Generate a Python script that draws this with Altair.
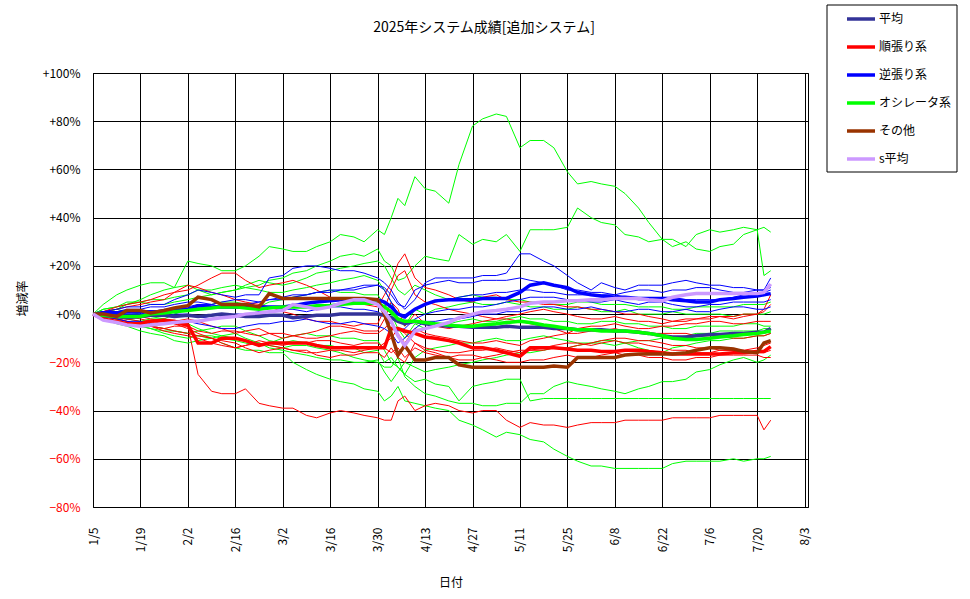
import altair as alt
import pandas as pd

FONT = "Noto Sans CJK JP"
TITLE = "2025年システム成績[追加システム]"

DATES = [
    # Jan (8)
    "2025-01-05", "2025-01-08", "2025-01-12", "2025-01-15", "2025-01-19", "2025-01-22", "2025-01-26", "2025-01-29",
    # Feb (8)
    "2025-02-02", "2025-02-05", "2025-02-09", "2025-02-12", "2025-02-16", "2025-02-19", "2025-02-23", "2025-02-26",
    # Mar (9)
    "2025-03-02", "2025-03-05", "2025-03-09", "2025-03-12", "2025-03-16", "2025-03-19", "2025-03-23", "2025-03-26", "2025-03-30",
    # Apr (11)
    "2025-04-01", "2025-04-03", "2025-04-05", "2025-04-07", "2025-04-10", "2025-04-13", "2025-04-16", "2025-04-20", "2025-04-23", "2025-04-27", "2025-04-30",
    # May (8)
    "2025-05-04", "2025-05-07", "2025-05-11", "2025-05-14", "2025-05-18", "2025-05-21", "2025-05-25", "2025-05-28",
    # Jun (9)
    "2025-06-01", "2025-06-04", "2025-06-08", "2025-06-11", "2025-06-15", "2025-06-18", "2025-06-22", "2025-06-25", "2025-06-29",
    # Jul (8)
    "2025-07-02", "2025-07-06", "2025-07-09", "2025-07-13", "2025-07-16", "2025-07-20", "2025-07-22", "2025-07-24",
]

GROUPS = ["平均", "順張り系", "逆張り系", "オシレータ系", "その他", "s平均"]
COLORS = ["#333399", "#FF0000", "#0000FF", "#00FF00", "#993300", "#CC99FF"]

# ---- thin lines: individual systems (オシレータ系) ----
G1 = [0, 4, 8, 10, 12, 13, 13, 11,
      22, 21, 20, 18, 18, 20, 24, 28,
      27, 26, 26, 28, 30, 33, 32, 30, 35,
      33, 40, 48, 45, 57, 52, 51, 46, 62, 78, 81,
      83, 82, 69, 72, 72, 69, 59, 54,
      55, 54, 53, 50, 44, 38, 31, 31, 28,
      33, 35, 34, 35, 36, 35, 36, 34]
G2 = [0, 2, 3, 5, 5, 4, 4, 5,
      6, 7, 8, 9, 10, 11, 12, 14,
      15, 17, 18, 20, 22, 24, 25, 24, 27,
      22, 20, 14, 15, 20, 24, 23, 22, 33, 29, 31,
      30, 33, 26, 35, 35, 35, 36, 44,
      40, 38, 37, 33, 32, 30, 31, 28, 30,
      27, 26, 28, 29, 33, 35, 16, 18]
G3 = [0, -1, -2, -4, -4, -5, -6, -7,
      -8, -9, -10, -12, -14, -15, -15, -16,
      -16, -20, -23, -25, -27, -28, -29, -31, -32,
      -36, -34, -30, -36, -37, -38, -39, -40, -44, -46, -48,
      -51, -49, -50, -52, -53, -56, -59, -61,
      -63, -63, -64, -64, -64, -64, -64, -62, -61,
      -61, -61, -61, -60, -61, -60, -60, -59]
G4 = [0, -2, -3, -4, -5, -6, -7, -7,
      -8, -7, -6, -5, -5, -7, -9, -11,
      -12, -11, -12, -13, -13, -14, -14, -16, -15,
      -20, -18, -22, -25, -28, -27, -29, -30, -36, -30, -29,
      -28, -27, -27, -36, -35, -35, -35, -35,
      -35, -35, -35, -35, -35, -35, -35, -35, -35,
      -35, -35, -35, -35, -35, -35, -35, -35]
G5 = [0, 1, 2, 1, 0, -1, -2, -3,
      -4, -6, -8, -9, -10, -11, -12, -13,
      -14, -13, -13, -14, -15, -16, -18, -19, -20,
      -22, -22, -18, -26, -30, -33, -34, -36, -37, -37, -38,
      -38, -37, -37, -33, -33, -30, -28, -29,
      -30, -31, -32, -33, -31, -30, -28, -28, -27,
      -24, -23, -21, -19, -18, -20, -19, -17]
G6 = [0, 2, 3, 4, 5, 6, 6, 7,
      8, 10, 10, 11, 12, 11, 10, 9,
      9, 10, 11, 12, 13, 14, 15, 16, 14,
      10, 5, -2, -5, 2, 0, 2, 3, 4, 5, 4,
      4, 5, 4, 3, 3, 2, 2, 3,
      2, 1, 1, 2, 0, 0, 0, 1, 0,
      0, 0, 0, -1, 0, 0, 0, 1]
G7 = [0, 1, -1, -2, -3, -2, -2, 0,
      2, 3, 4, 5, 5, 4, 3, 5,
      6, 7, 8, 9, 10, 9, 9, 8, 8,
      4, 0, -6, -10, -4, -6, -5, -4, -3, -2, -3,
      -3, -2, -1, -2, -2, -3, -3, -4,
      -4, -3, -3, -4, -4, -5, -5, -6, -6,
      -5, -5, -5, -5, -4, -4, -5, -5]
G8 = [0, -1, -2, -3, -5, -6, -8, -9,
      -10, -9, -9, -10, -11, -12, -13, -12,
      -10, -9, -8, -9, -9, -10, -10, -11, -11,
      -15, -20, -22, -25, -18, -15, -14, -13, -12, -12, -11,
      -10, -11, -11, -10, -9, -10, -11, -12,
      -12, -11, -11, -12, -14, -15, -16, -14, -13,
      -12, -11, -11, -10, -10, -9, -9, -8]
G9 = [0, 1, 2, 4, 6, 8, 10, 11,
      12, 10, 8, 9, 10, 12, 14, 13,
      12, 13, 15, 17, 18, 19, 20, 21, 22,
      20, 15, 10, 8, 12, 10, 8, 6, 7, 8, 7,
      7, 6, 6, 5, 5, 4, 4, 5,
      5, 4, 4, 4, 3, 3, 3, 2, 2,
      3, 3, 3, 3, 4, 4, 4, 5]
G10 = [0, -2, -4, -5, -7, -8, -9, -11,
       -12, -11, -10, -9, -8, -10, -12, -14,
       -15, -16, -17, -18, -19, -19, -20, -20, -19,
       -24, -28, -24, -20, -22, -24, -23, -22, -21, -20, -19,
       -18, -17, -16, -16, -15, -14, -14, -13,
       -12, -12, -13, -12, -11, -11, -10, -10, -9,
       -8, -8, -7, -7, -7, -7, -6, -6]

# ---- thin lines: 順張り系 ----
R1 = [0, -1, -2, -3, -4, -5, -6, -5,
      -5, -25, -32, -33, -33, -31, -37, -38,
      -39, -39, -42, -43, -41, -40, -41, -42, -43,
      -44, -44, -36, -34, -40, -38, -37, -38, -40, -41, -40,
      -40, -44, -47, -45, -46, -46, -47, -46,
      -45, -45, -45, -44, -44, -44, -44, -43, -43,
      -43, -43, -42, -42, -42, -42, -48, -44]
R2 = [0, 1, 3, 4, 5, 6, 8, 9,
      10, 12, 15, 17, 17, 14, 11, 12,
      13, 14, 12, 10, 7, 6, 5, 4, 3,
      8, 13, 21, 25, 15, 11, 10, 8, 6, 5, 7,
      8, 6, 5, 5, 4, 4, 3, 3,
      2, 2, 1, 0, 0, -1, -2, -3, -3,
      -2, -2, -1, -1, 0, 0, 1, 4]
R3 = [0, -2, -3, -4, -5, -5, -6, -7,
      -8, -9, -10, -11, -12, -14, -16, -15,
      -14, -15, -15, -17, -18, -17, -17, -16, -16,
      -18, -14, -18, -20, -12, -15, -16, -18, -17, -17, -18,
      -19, -20, -20, -19, -19, -18, -17, -18,
      -18, -17, -16, -17, -17, -18, -18, -19, -19,
      -18, -18, -17, -17, -17, -17, -18, -18]
R4 = [0, -1, -2, -2, -1, -2, -3, -4,
      -5, -7, -8, -7, -7, -8, -9, -8,
      -8, -9, -10, -10, -9, -8, -7, -8, -8,
      -6, -3, -8, -12, -6, -8, -9, -10, -11, -12, -12,
      -11, -12, -13, -11, -10, -9, -8, -6,
      -5, -5, -4, -5, -6, -6, -5, -5, -4,
      -4, -3, -3, -4, -4, -3, -3, -3]
R5 = [0, 1, 1, -1, -2, -3, -4, -3,
      -2, -3, -5, -6, -8, -7, -6, -8,
      -10, -9, -8, -7, -5, -5, -6, -7, -7,
      -2, 5, 2, -5, 0, -4, -5, -6, -5, -4, -3,
      -2, -1, 0, 1, 2, 1, 0, -1,
      -2, -2, -1, -2, -3, -3, -4, -3, -2,
      -2, -1, -1, -2, -1, 0, 2, 8]
R6 = [0, -1, -1, -2, -3, -3, -2, -4,
      -6, -8, -10, -12, -14, -13, -12, -13,
      -14, -15, -16, -16, -15, -15, -16, -15, -14,
      -12, -10, -6, -8, -12, -14, -15, -16, -16, -15, -15,
      -14, -15, -16, -15, -15, -14, -14, -13,
      -12, -11, -10, -10, -11, -11, -12, -13, -13,
      -14, -14, -15, -15, -15, -14, -13, -12]
R7 = [0, 1, 2, 3, 4, 5, 6, 9,
      12, 11, 9, 8, 6, 5, 4, 3,
      1, 0, -2, -3, -3, -4, -5, -4, -4,
      2, 10, 16, 18, 8, 5, 4, 2, 1, 0, -1,
      -2, -2, -3, -4, -5, -6, -8, -8,
      -7, -7, -6, -7, -7, -8, -8, -8, -8,
      -9, -9, -9, -10, -10, -9, -9, -8]
R8 = [0, -1, -2, -3, -4, -5, -7, -8,
      -9, -10, -12, -13, -14, -13, -11, -12,
      -13, -12, -12, -11, -11, -12, -13, -12, -12,
      -14, -16, -14, -18, -14, -16, -17, -18, -19, -19, -18,
      -17, -16, -15, -15, -14, -13, -12, -12,
      -13, -12, -11, -12, -12, -13, -14, -15, -15,
      -16, -16, -15, -15, -15, -16, -16, -15]

# ---- thin lines: 逆張り系 ----
B1 = [0, 1, 2, 3, 3, 4, 4, 6,
      8, 10, 9, 8, 7, 8, 8, 15,
      16, 19, 20, 20, 19, 18, 18, 17, 15,
      13, 10, 5, 2, 6, 13, 15, 15, 15, 15, 16,
      16, 17, 25, 25, 22, 20, 16, 13,
      10, 13, 11, 10, 12, 12, 12, 13, 14,
      13, 12, 12, 11, 11, 10, 10, 15]
B2 = [0, 1, 1, 2, 2, 3, 3, 4,
      5, 5, 4, 5, 6, 6, 5, 6,
      7, 8, 8, 9, 10, 10, 11, 12, 12,
      11, 8, 4, 3, 10, 12, 13, 14, 13, 13, 14,
      14, 14, 15, 14, 13, 12, 10, 10,
      9, 9, 8, 9, 10, 10, 9, 10, 10,
      11, 11, 10, 9, 9, 10, 10, 11]
B3 = [0, 0, -1, 0, 0, -1, -1, 0,
      0, -1, -2, -1, 0, 0, 1, 1,
      2, 2, 1, 2, 3, 3, 2, 2, 1,
      -1, -4, -7, -6, -2, 0, 1, 2, 2, 3, 3,
      4, 5, 6, 7, 7, 7, 6, 6,
      5, 5, 6, 5, 4, 5, 5, 4, 3,
      3, 4, 4, 5, 5, 5, 5, 6]
B4 = [0, -1, -2, -3, -3, -4, -4, -3,
      -3, -4, -5, -6, -6, -5, -4, -4,
      -3, -3, -2, -3, -4, -4, -3, -4, -5,
      -6, -8, -12, -10, -6, -3, -3, -2, -2, -1, 0,
      0, 1, 1, 2, 3, 3, 2, 2,
      3, 2, 1, 1, 2, 2, 1, 1, 2,
      1, 1, 2, 3, 3, 2, 2, 3]
B5 = [0, 1, 1, 0, 0, 1, 2, 2,
      3, 4, 4, 3, 3, 4, 5, 6,
      6, 7, 8, 9, 9, 10, 10, 11, 12,
      10, 5, 0, -2, 2, 4, 5, 6, 7, 8, 8,
      9, 9, 10, 10, 9, 9, 8, 8,
      8, 8, 8, 7, 6, 6, 7, 7, 6,
      6, 6, 6, 7, 8, 9, 9, 10]

# ---- thick lines: group averages ----
AVG = [0, -1, -1, -1.5, -1, -0.5, -0.5, -1,
       -0.5, -1, -0.5, 0, -0.5, -1, -1, -0.5,
       -0.5, -1.5, -1, -0.5, -0.5, 0, 0, 0, 0,
       -0.5, -1.5, -3, -4, -3, -4, -4.5, -5, -5, -5.5, -5.5,
       -5.5, -5, -5.5, -5.5, -5.5, -6, -6, -6.5,
       -6.5, -6.5, -7, -7, -7.5, -8, -9, -9.5, -9.5,
       -9, -8.5, -8.5, -8, -8, -7.5, -7.5, -6]
JUN = [0, -2, -3, -4, -4, -3, -2.5, -3,
       -4.5, -12, -12, -10, -10, -11, -13, -12,
       -12, -12, -12, -13, -14, -14, -14, -14, -14,
       -14, -6, -6, -7, -8, -9.5, -10, -11, -12, -14, -14,
       -15, -16, -17.5, -14, -14, -14, -14.5, -15,
       -15, -15.5, -15.5, -15, -15, -15.5, -16, -16.5, -16.5,
       -16.5, -16.5, -16.5, -16, -16, -15.5, -15.5, -13.5]
GYAKU = [0, 0.5, 0.5, 1, 1, 1, 1, 1.5,
         2, 3.5, 3, 3, 3, 3, 3, 3,
         3, 3.5, 4.5, 5, 5.5, 6, 6, 6, 6,
         5, 3, 0, -1, 2, 4, 5.5, 6, 6, 6, 6.5,
         6.5, 6.5, 9, 12, 13, 12, 11, 9,
         8, 7.5, 7, 7, 6.5, 6.5, 6.5, 6, 5.5,
         5, 5, 6, 6.5, 7, 7.5, 8, 8.5]
OSC = [0, -0.5, -1, -1, -1, 0, 0.5, 1,
       1.5, 2, 2.5, 3, 3, 2.5, 2, 2.5,
       3, 3, 3, 3.5, 3.5, 4, 4.5, 4.5, 4.5,
       3, 1, -2, -3, -3, -3.5, -4, -4.5, -5, -5, -4.5,
       -4, -3.5, -3, -3.5, -4.5, -5, -6, -6.5,
       -6.5, -7, -7, -7, -7.5, -8, -9, -10, -10.5,
       -10.5, -10, -9.5, -9, -8.5, -8, -7.5, -7]
OTHER = [0, 0, -1, 1.5, 1.5, 0.5, 1.5, 2.5,
         3.5, 7, 6, 4, 4, 4, 3, 8.5,
         6.5, 6.5, 6.5, 6.5, 6.5, 6.5, 6.5, 6.5, 6,
         0, -8, -17, -13, -19, -19, -18, -18, -21, -22, -22,
         -22, -22, -22, -22, -22, -21.5, -22, -18,
         -18, -18, -18, -17, -16.5, -16.5, -16.5, -16.5, -16,
         -15, -14, -14, -14.5, -15.5, -16, -12, -11]
SAVG = [0, -2.5, -3.5, -4.5, -5, -4.5, -4, -3.5,
        -3, -3, -2, -1.5, -1, 0, 0.5, 1,
        1.5, 4, 3, 2, 3, 4.5, 6, 6, 4,
        1, -3, -9, -13, -7, -6, -5, -3.5, -1.5, 0, 1,
        1.5, 2, 3, 4.5, 5, 5, 5.5, 5.5,
        6, 6, 6.5, 6.5, 6.5, 6, 5.5, 7, 8,
        8.5, 8.5, 8.5, 8.5, 8.5, 8.5, 9, 12.5]

TICK_DATES = [(1, 5), (1, 19), (2, 2), (2, 16), (3, 2), (3, 16), (3, 30), (4, 13), (4, 27),
              (5, 11), (5, 25), (6, 8), (6, 22), (7, 6), (7, 20), (8, 3)]
Y_TICKS = [-80, -60, -40, -20, 0, 20, 40, 60, 80, 100]

thin_series = [
    ("g1", "オシレータ系", G1), ("g2", "オシレータ系", G2), ("g3", "オシレータ系", G3),
    ("g4", "オシレータ系", G4), ("g5", "オシレータ系", G5), ("g6", "オシレータ系", G6),
    ("g7", "オシレータ系", G7), ("g8", "オシレータ系", G8), ("g9", "オシレータ系", G9),
    ("g10", "オシレータ系", G10),
    ("r1", "順張り系", R1), ("r2", "順張り系", R2), ("r3", "順張り系", R3), ("r4", "順張り系", R4),
    ("r5", "順張り系", R5), ("r6", "順張り系", R6), ("r7", "順張り系", R7), ("r8", "順張り系", R8),
    ("b1", "逆張り系", B1), ("b2", "逆張り系", B2), ("b3", "逆張り系", B3), ("b4", "逆張り系", B4),
    ("b5", "逆張り系", B5),
]
thick_series = [
    ("t_avg", "平均", AVG), ("t_jun", "順張り系", JUN), ("t_gyaku", "逆張り系", GYAKU),
    ("t_osc", "オシレータ系", OSC), ("t_other", "その他", OTHER), ("t_savg", "s平均", SAVG),
]

for sid, _, vals in thin_series + thick_series:
    if len(vals) != len(DATES):
        raise ValueError(f"{sid}: {len(vals)} values vs {len(DATES)} dates")

rows = []
for sid, grp, vals in thin_series:
    for d, v in zip(DATES, vals):
        rows.append({"date": d, "value": v, "series": sid, "group": grp, "kind": "thin"})
for sid, grp, vals in thick_series:
    for d, v in zip(DATES, vals):
        rows.append({"date": d, "value": v, "series": sid, "group": grp, "kind": "thick"})
df = pd.DataFrame(rows)

color_scale = alt.Scale(domain=GROUPS, range=COLORS)

x_enc = alt.X(
    "date:T",
    scale=alt.Scale(type="utc",
                    domain=[alt.DateTime(year=2025, month=1, date=5, utc=True),
                            alt.DateTime(year=2025, month=8, date=4, utc=True)]),
    axis=alt.Axis(
        values=[alt.DateTime(year=2025, month=m, date=d, utc=True) for m, d in TICK_DATES],
        labelExpr="utcFormat(datum.value, '%-m/%-d')",
        labelAngle=270, labelAlign="right", labelBaseline="middle",
        labelPadding=20, ticks=False, domain=False,
        grid=True, gridColor="black", gridOpacity=1, gridWidth=1,
        labelFont=FONT, labelFontSize=12, labelColor="black",
        title="日付", titleFont=FONT, titleFontSize=12, titleFontWeight="normal",
        titleColor="black", titleY=75, titleBaseline="middle",
    ),
)
y_enc = alt.Y(
    "value:Q",
    scale=alt.Scale(domain=[-80, 100], nice=False, zero=False),
    axis=alt.Axis(
        values=Y_TICKS,
        labelExpr="datum.value > 0 ? '+' + datum.value + '%' : (datum.value == 0 ? '+0%' : '−' + abs(datum.value) + '%')",
        labelColor=alt.condition("datum.value < 0", alt.value("#FF0000"), alt.value("black")),
        labelPadding=13, ticks=False, domain=False,
        grid=True, gridColor="black", gridOpacity=1, gridWidth=1,
        labelFont=FONT, labelFontSize=12,
        title="増減率", titleFont=FONT, titleFontSize=12, titleFontWeight="normal",
        titleColor="black", titleX=-71, titleY=225, titleAngle=270,
        titleAlign="center", titleBaseline="middle",
    ),
)

legend = alt.Legend(
    title=None, orient="none", legendX=734, legendY=-70, direction="vertical",
    symbolType="M-1,0H1", symbolSize=784, symbolStrokeWidth=3.5,
    labelFont=FONT, labelFontSize=12, labelColor="black", labelOffset=2,
    padding=0, rowPadding=5, symbolOffset=18, labelLimit=200,
)

base = alt.Chart(df)

thin = base.transform_filter("datum.kind == 'thin'").mark_line(strokeWidth=1).encode(
    x=x_enc, y=y_enc,
    color=alt.Color("group:N", scale=color_scale, legend=legend),
    detail="series:N",
)

thick = base.transform_filter("datum.kind == 'thick'").mark_line(strokeWidth=3.5).encode(
    x=x_enc, y=y_enc,
    color=alt.Color("group:N", scale=color_scale, legend=legend),
    detail="series:N",
)

deco = alt.Chart(pd.DataFrame({"t": [TITLE]}))

legend_frame = deco.mark_rect(fill="white", stroke="black", strokeWidth=1).encode(
    x=alt.value(734), x2=alt.value(864), y=alt.value(-68), y2=alt.value(99),
)

title_layer = deco.mark_text(
    font=FONT, fontSize=14, color="black", align="center", baseline="middle",
).encode(text="t:N", x=alt.value(391), y=alt.value(-45))

chart = alt.layer(legend_frame, thin, thick, title_layer).properties(
    width=715, height=434,
    padding={"left": 93, "top": 73, "right": 162, "bottom": 92},
    autosize=alt.AutoSizeParams(type="none"),
    background="white",
).configure_view(stroke="black", strokeWidth=1)

chart.save("out.html", embed_options={"renderer": "svg", "actions": False})
